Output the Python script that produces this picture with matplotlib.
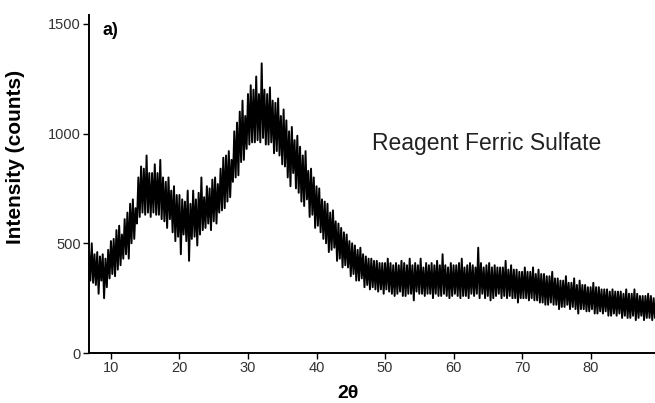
import numpy as np
import matplotlib
matplotlib.use("Agg")
import matplotlib.pyplot as plt

plt.rcParams["font.family"] = ["Liberation Sans", "DejaVu Sans"]

# XRD scan, 0.2 deg steps starting at 6.8 deg (one row = 1 deg)
start_angle = 6.8
step = 0.2
counts = [
    470, 330, 500, 320, 450,
    310, 460, 270, 440, 330,
    450, 250, 430, 300, 470,
    340, 510, 360, 520, 350,
    560, 380, 580, 400, 540,
    430, 610, 450, 640, 430,
    680, 500, 700, 520, 660,
    590, 800, 620, 850, 640,
    840, 630, 900, 640, 820,
    620, 820, 640, 860, 630,
    820, 630, 880, 610, 800,
    600, 780, 570, 800, 610,
    740, 550, 760, 510, 720,
    530, 720, 450, 700, 540,
    690, 510, 740, 420, 680,
    520, 740, 530, 700, 490,
    730, 540, 800, 560, 710,
    570, 760, 590, 750, 560,
    790, 600, 800, 590, 770,
    640, 840, 650, 890, 660,
    900, 690, 920, 710, 880,
    780, 1010, 800, 1050, 810,
    1100, 870, 1150, 880, 1080,
    930, 1180, 950, 1220, 960,
    1200, 960, 1260, 970, 1180,
    960, 1320, 980, 1200, 950,
    1180, 950, 1210, 960, 1150,
    910, 1140, 920, 1160, 900,
    1080, 860, 1110, 850, 1060,
    800, 1010, 760, 1030, 820,
    970, 750, 990, 730, 940,
    690, 900, 670, 920, 700,
    830, 620, 840, 630, 800,
    570, 760, 580, 750, 550,
    700, 520, 690, 500, 680,
    460, 640, 470, 650, 480,
    600, 420, 590, 430, 570,
    390, 550, 400, 540, 390,
    510, 350, 500, 360, 490,
    330, 470, 330, 480, 340,
    450, 300, 440, 310, 430,
    290, 430, 300, 420, 290,
    420, 280, 410, 290, 410,
    270, 410, 290, 430, 280,
    410, 270, 400, 260, 410,
    270, 400, 280, 420, 260,
    410, 260, 400, 270, 430,
    270, 400, 240, 410, 280,
    400, 270, 430, 270, 390,
    260, 410, 270, 400, 270,
    410, 250, 400, 270, 420,
    260, 400, 260, 450, 270,
    400, 260, 390, 250, 410,
    260, 400, 270, 400, 260,
    410, 250, 430, 260, 390,
    260, 400, 250, 410, 270,
    400, 260, 390, 270, 480,
    250, 410, 270, 390, 250,
    400, 260, 410, 240, 390,
    250, 400, 260, 390, 270,
    390, 250, 390, 260, 420,
    250, 380, 260, 400, 250,
    380, 250, 380, 230, 370,
    250, 370, 250, 390, 250,
    370, 240, 370, 250, 390,
    240, 360, 240, 380, 230,
    360, 230, 360, 220, 350,
    220, 350, 230, 370, 220,
    340, 220, 340, 200, 330,
    210, 330, 210, 350, 220,
    320, 200, 320, 210, 340,
    200, 310, 180, 330, 200,
    310, 200, 310, 190, 300,
    190, 300, 200, 320, 180,
    300, 180, 300, 190, 290,
    180, 290, 190, 290, 170,
    280, 170, 290, 180, 280,
    170, 280, 180, 280, 160,
    270, 170, 290, 160, 270,
    160, 270, 170, 290, 150,
    270, 160, 260, 170, 260,
    150, 260, 160, 270, 160,
    260, 150, 250, 160, 250,
]
two_theta = start_angle + step * np.arange(len(counts))

x_ticks = [10, 20, 30, 40, 50, 60, 70, 80]
y_ticks = [0, 500, 1000, 1500]

fig = plt.figure(figsize=(6.55, 4.03), dpi=100)
ax = fig.add_axes([0.1359, 0.124, 0.8641, 0.8387])

ax.plot(two_theta, counts, color="black", linewidth=1.4)

ax.set_xlim(6.8, 89.4)
ax.set_ylim(0, 1540)
ax.set_xticks(x_ticks)
ax.set_yticks(y_ticks)

for side in ["top", "right"]:
    ax.spines[side].set_visible(False)
for side in ["left", "bottom"]:
    ax.spines[side].set_linewidth(1.4)
ax.tick_params(direction="out", length=4, width=1, labelsize=10.5,
               labelcolor="#333333", pad=2)

ax.set_ylabel("Intensity (counts)", fontsize=15, fontweight="bold")
ax.yaxis.set_label_coords(-0.113, 0.58)
ax.set_xlabel("2θ", fontsize=14, fontweight="bold")
ax.xaxis.set_label_coords(0.458, -0.095)

ax.text(0.023, 0.955, "a)", transform=ax.transAxes, fontsize=13,
        fontweight="bold", va="center", ha="left")
ax.text(48.1, 955, "Reagent Ferric Sulfate", fontsize=16.5, va="center",
        ha="left", color="#222222")

fig.savefig("out.png", dpi=100)
